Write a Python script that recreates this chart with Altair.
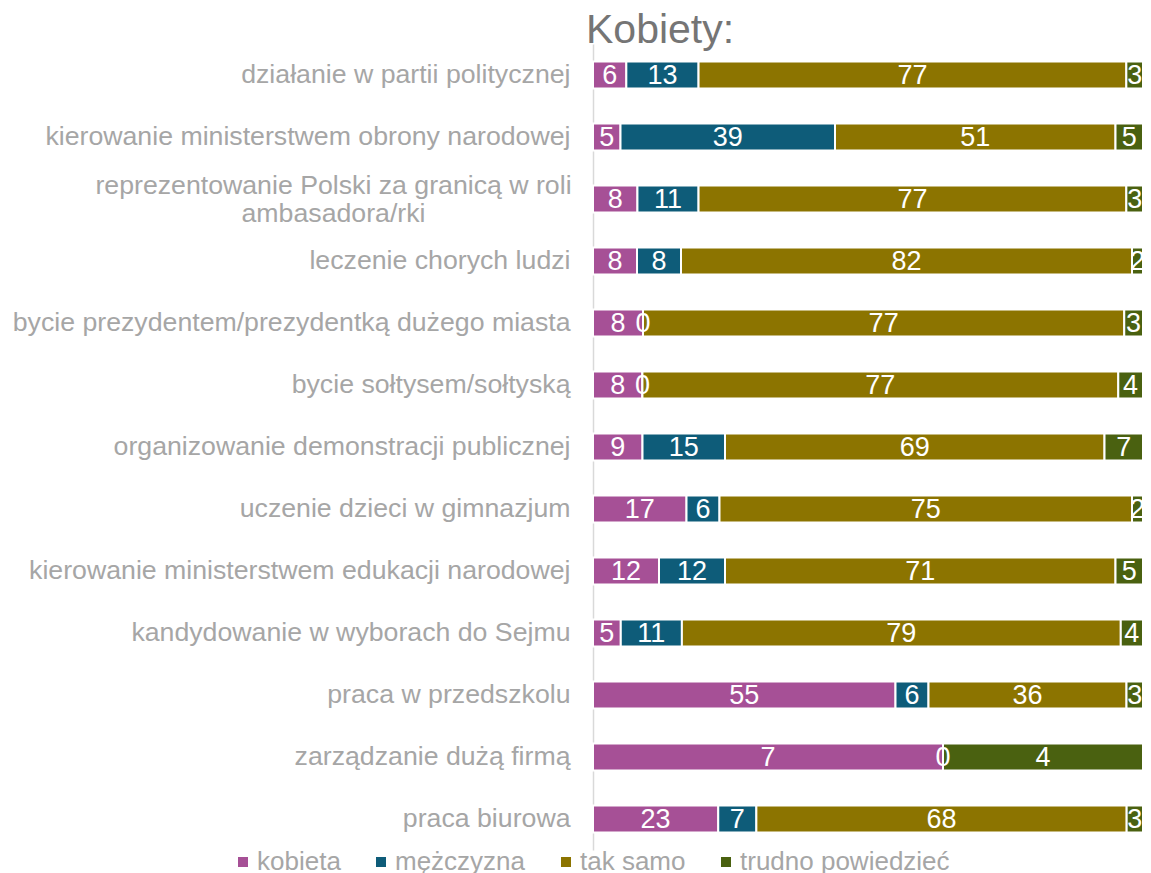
import altair as alt
import pandas as pd

categories = [
    "działanie w partii politycznej",
    "kierowanie ministerstwem obrony narodowej",
    "reprezentowanie Polski za granicą w roli|ambasadora/rki",
    "leczenie chorych ludzi",
    "bycie prezydentem/prezydentką dużego miasta",
    "bycie sołtysem/sołtyską",
    "organizowanie demonstracji publicznej",
    "uczenie dzieci w gimnazjum",
    "kierowanie ministerstwem edukacji narodowej",
    "kandydowanie w wyborach do Sejmu",
    "praca w przedszkolu",
    "zarządzanie dużą firmą",
    "praca biurowa",
]
series = ["kobieta", "mężczyzna", "tak samo", "trudno powiedzieć"]
colors = ["#A65096", "#0E5C79", "#8C7400", "#4A6110"]

kobieta = [6, 5, 8, 8, 8, 8, 9, 17, 12, 5, 55, 7, 23]
mezczyzna = [13, 39, 11, 8, 0, 0, 15, 6, 12, 11, 6, 0, 7]
tak_samo = [77, 51, 77, 82, 77, 77, 69, 75, 71, 79, 36, None, 68]
trudno = [3, 5, 3, 2, 3, 4, 7, 2, 5, 4, 3, 4, 3]

rows = []
for s_i, (name, vals) in enumerate(zip(series, [kobieta, mezczyzna, tak_samo, trudno])):
    for c, v in zip(categories, vals):
        if v is None:
            continue
        rows.append({"kategoria": c, "seria": name, "ord": s_i, "wartosc": v})
df = pd.DataFrame(rows)

FONT = "Liberation Sans"
MULTI = "indexof(datum.value, '|') >= 0"

base = alt.Chart(df).transform_stack(
    stack="wartosc",
    groupby=["kategoria"],
    as_=["x0", "x1"],
    offset="normalize",
    sort=[alt.SortField("ord", order="ascending")],
).transform_calculate(mid="(datum.x0 + datum.x1) / 2")

y_enc = alt.Y(
    "kategoria:N",
    sort=categories,
    title=None,
    scale=alt.Scale(paddingInner=0.6, paddingOuter=0.3),
    axis=alt.Axis(
        labelExpr="split(datum.value, '|')",
        labelFontSize=26.7,
        labelFont=FONT,
        labelColor="#A6A6A6",
        labelPadding={"condition": {"test": MULTI, "value": 260}, "value": 23},
        labelAlign={"condition": {"test": MULTI, "value": "center"}, "value": "right"},
        labelOffset={"condition": {"test": MULTI, "value": -13}, "value": 0},
        labelLimit=0,
        labelLineHeight=28,
        ticks=False,
        domainColor="#D9D9D9",
        domainWidth=1.5,
        grid=False,
    ),
)

bars = base.mark_bar(stroke="white", strokeWidth=2, size=27).encode(
    y=y_enc,
    x=alt.X("x0:Q", axis=None, scale=alt.Scale(domain=[0, 1], nice=False, zero=False)),
    x2="x1:Q",
    color=alt.Color(
        "seria:N",
        sort=series,
        scale=alt.Scale(domain=series, range=colors),
        legend=alt.Legend(
            title=None,
            orient="none",
            direction="horizontal",
            columns=4,
            legendX=-363,
            legendY=805,
            symbolType="square",
            symbolSize=100,
            symbolStrokeWidth=0,
            labelFontSize=26,
            labelFont=FONT,
            labelColor="#A6A6A6",
            labelOffset=1,
            labelLimit=400,
            columnPadding=27,
            padding=0,
        ),
    ),
)

labels = base.mark_text(
    color="white", fontSize=27, font=FONT, baseline="middle", align="center", dy=1
).encode(
    y=alt.Y("kategoria:N", sort=categories),
    x=alt.X("mid:Q"),
    text=alt.Text("wartosc:Q"),
)

chart = (
    alt.layer(bars, labels)
    .properties(
        width=550,
        height=806,
        autosize=alt.AutoSizeParams(type="none"),
        padding={"left": 585, "top": 36, "right": 0, "bottom": 23},
        title=alt.TitleParams(
            "Kobiety:",
            anchor="start",
            frame="group",
            fontSize=41,
            font=FONT,
            fontWeight="normal",
            color="#757575",
            baseline="alphabetic",
            offset=1,
            dx=-7,
            dy=41,
        ),
    )
    .configure_view(stroke=None)
)

chart.save("out.html", embed_options={"renderer": "svg", "actions": False})
